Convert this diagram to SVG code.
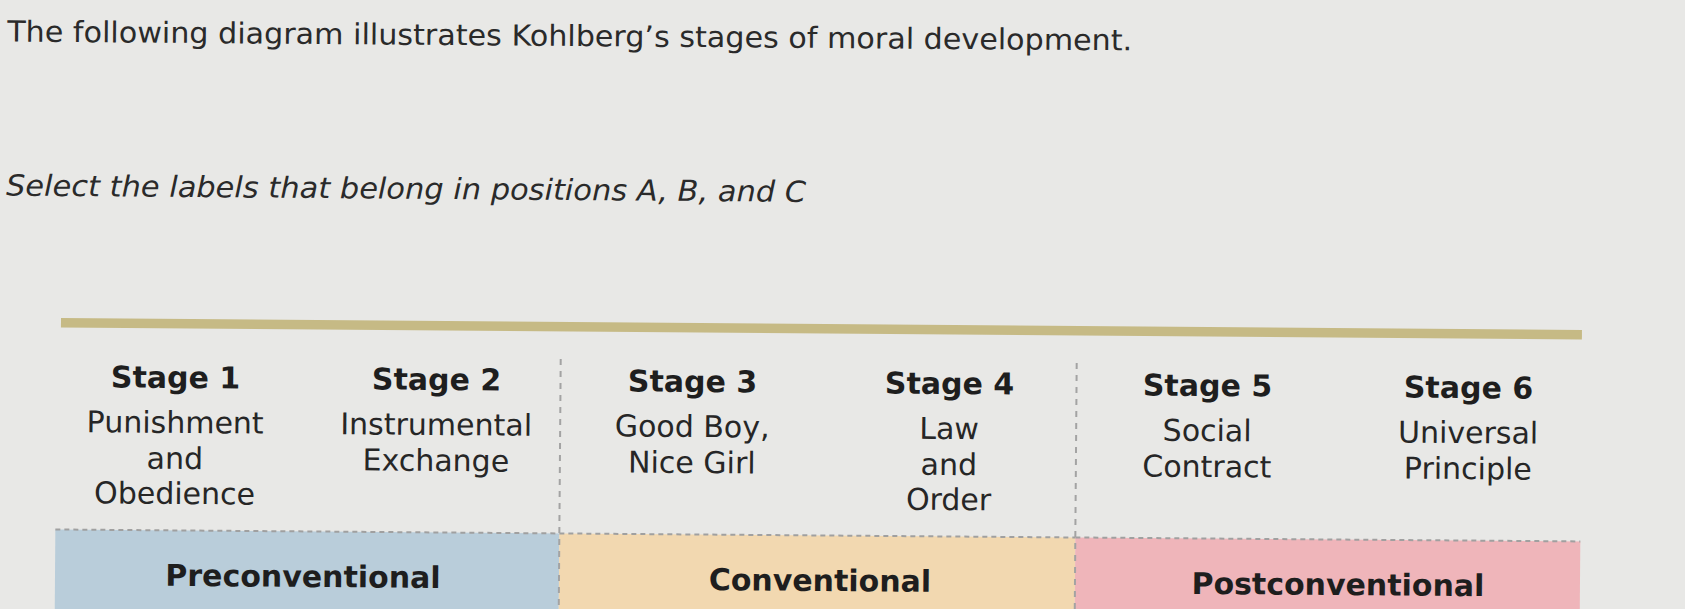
<svg xmlns="http://www.w3.org/2000/svg" width="1685" height="609" viewBox="0 0 1685 609">
  <style>
    .t { font-family: "DejaVu Sans", Verdana, sans-serif; fill: #1e1e1e; }
    .hd { font-size: 29px; fill: #2a2a2a; }
    .stage { font-size: 30px; font-weight: bold; text-anchor: middle; }
    .sub { font-size: 30px; text-anchor: middle; fill: #262626; }
    .lvl { font-size: 30px; font-weight: bold; text-anchor: middle; }
    .sep { stroke: #a3a3a3; stroke-width: 2; stroke-dasharray: 6 6; fill: none; }
    .topb { stroke: #a0a0a0; stroke-width: 2; stroke-dasharray: 5 4; fill: none; }
  </style>
  <rect x="0" y="0" width="1685" height="609" fill="#e8e8e6"/>
  <g transform="rotate(0.45 61 320)">
    <g id="header">
      <text class="t hd" x="5" y="42" textLength="1125" lengthAdjust="spacingAndGlyphs">The following diagram illustrates Kohlberg’s stages of moral development.</text>
      <text class="t hd" x="5" y="196" font-style="italic" textLength="800" lengthAdjust="spacingAndGlyphs">Select the labels that belong in positions A, B, and C</text>
    </g>
    <rect id="bar" x="61" y="318" width="1521" height="9.5" fill="#c6ba85"/>
    <g id="level-pre">
      <rect x="57" y="529.5" width="504" height="120" fill="#b9cdda"/>
      <line class="topb" x1="57" y1="529.5" x2="561" y2="529.5"/>
      <text class="t lvl" x="305" y="585">Preconventional</text>
    </g>
    <g id="level-conv">
      <rect x="561" y="529.5" width="516" height="120" fill="#f2d8b0"/>
      <line class="topb" x1="561" y1="529.5" x2="1077" y2="529.5"/>
      <text class="t lvl" x="822" y="585">Conventional</text>
    </g>
    <g id="level-post">
      <rect x="1077" y="529.5" width="505" height="120" fill="#efb5ba"/>
      <line class="topb" x1="1077" y1="529.5" x2="1582" y2="529.5"/>
      <text class="t lvl" x="1340" y="585">Postconventional</text>
    </g>
    <g id="separators">
      <line class="sep" x1="561" y1="355" x2="561" y2="620"/>
      <line class="sep" x1="1077" y1="355" x2="1077" y2="620"/>
    </g>
    <g id="stage1">
      <text class="t stage" x="176" y="387">Stage 1</text>
      <text class="t sub" x="176" y="432">Punishment</text>
      <text class="t sub" x="176" y="468">and</text>
      <text class="t sub" x="176" y="503">Obedience</text>
    </g>
    <g id="stage2">
      <text class="t stage" x="437" y="387">Stage 2</text>
      <text class="t sub" x="437" y="432">Instrumental</text>
      <text class="t sub" x="437" y="468">Exchange</text>
    </g>
    <g id="stage3">
      <text class="t stage" x="693" y="387">Stage 3</text>
      <text class="t sub" x="693" y="432">Good Boy,</text>
      <text class="t sub" x="693" y="468">Nice Girl</text>
    </g>
    <g id="stage4">
      <text class="t stage" x="950" y="387">Stage 4</text>
      <text class="t sub" x="950" y="432">Law</text>
      <text class="t sub" x="950" y="468">and</text>
      <text class="t sub" x="950" y="503">Order</text>
    </g>
    <g id="stage5">
      <text class="t stage" x="1208" y="387">Stage 5</text>
      <text class="t sub" x="1208" y="432">Social</text>
      <text class="t sub" x="1208" y="468">Contract</text>
    </g>
    <g id="stage6">
      <text class="t stage" x="1469" y="387">Stage 6</text>
      <text class="t sub" x="1469" y="432">Universal</text>
      <text class="t sub" x="1469" y="468">Principle</text>
    </g>
  </g>
</svg>
